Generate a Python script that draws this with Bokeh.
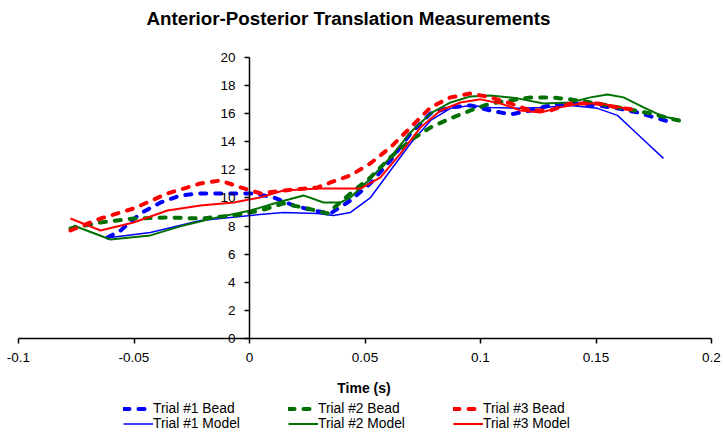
from bokeh.plotting import figure
from bokeh.models import Range1d, LinearAxis, FixedTicker, Legend, LegendItem
from bokeh.core.properties import value
from bokeh.embed import file_html
from bokeh.resources import INLINE

title_text = "Anterior-Posterior Translation Measurements"
x_label = "Time (s)"
x_ticks = [-0.1, -0.05, 0, 0.05, 0.1, 0.15, 0.2]
x_tick_labels = ["-0.1", "-0.05", "0", "0.05", "0.1", "0.15", "0.2"]
y_ticks = [0, 2, 4, 6, 8, 10, 12, 14, 16, 18, 20]
y_tick_labels = ["0", "2", "4", "6", "8", "10", "12", "14", "16", "18", "20"]

t1_bead_x = [-0.0615, -0.0558, -0.0472, -0.0385, -0.0299, -0.0212, -0.0069, 0.0017, 0.0104, 0.0190,
             0.0277, 0.0351, 0.0437, 0.0524, 0.0610, 0.0697, 0.0784, 0.0870, 0.0957, 0.1043,
             0.1130, 0.1216, 0.1303, 0.1390, 0.1506, 0.1593, 0.1680, 0.1766, 0.1814]
t1_bead_y = [7.19, 7.69, 8.90, 9.68, 10.18, 10.32, 10.32, 10.32, 10.04, 9.47,
             9.11, 8.90, 9.82, 11.04, 12.66, 14.58, 16.00, 16.43, 16.57, 16.21,
             15.93, 16.21, 16.57, 16.71, 16.57, 16.36, 16.07, 15.65, 15.43]

t1_model_x = [-0.0602, -0.0429, -0.0212, 0.0004, 0.0147, 0.0294, 0.0364, 0.0437, 0.0524, 0.0610,
              0.0697, 0.0784, 0.0870, 0.0957, 0.1043, 0.1160, 0.1273, 0.1390, 0.1506, 0.1593,
              0.1649, 0.1723, 0.1792]
t1_model_y = [7.19, 7.55, 8.40, 8.76, 8.97, 8.90, 8.76, 8.97, 10.03, 11.95,
              13.87, 15.50, 16.36, 16.57, 16.43, 16.36, 16.43, 16.57, 16.36, 15.86,
              15.00, 13.87, 12.81]

t2_bead_x = [-0.0775, -0.0645, -0.0502, -0.0355, -0.0212, -0.0069, 0.0048, 0.0147, 0.0251, 0.0338,
             0.0437, 0.0524, 0.0610, 0.0697, 0.0784, 0.0870, 0.0957, 0.1043, 0.1130, 0.1216,
             0.1303, 0.1390, 0.1506, 0.1619, 0.1736, 0.1835, 0.1879]
t2_bead_y = [7.83, 8.26, 8.54, 8.62, 8.54, 8.76, 9.11, 9.61, 9.25, 8.90,
             10.32, 11.46, 12.88, 14.09, 15.01, 15.65, 16.21, 16.71, 16.92, 17.14,
             17.14, 17.00, 16.71, 16.36, 16.00, 15.58, 15.43]

t2_model_x = [-0.0762, -0.0602, -0.0429, -0.0286, -0.0139, 0.0004, 0.0121, 0.0234, 0.0320, 0.0394,
              0.0437, 0.0524, 0.0610, 0.0697, 0.0784, 0.0870, 0.0957, 0.1043, 0.1160, 0.1273,
              0.1390, 0.1476, 0.1550, 0.1619, 0.1706, 0.1792, 0.1857]
t2_model_y = [8.04, 7.05, 7.34, 8.05, 8.62, 9.11, 9.68, 10.18, 9.68, 9.68,
              10.03, 11.38, 12.88, 14.65, 16.00, 16.78, 17.21, 17.28, 17.07, 16.71,
              16.78, 17.14, 17.35, 17.14, 16.43, 15.78, 15.57]

t3_bead_x = [-0.0775, -0.0645, -0.0502, -0.0355, -0.0212, -0.0126, -0.0039, 0.0048, 0.0147, 0.0294,
             0.0351, 0.0437, 0.0524, 0.0610, 0.0697, 0.0784, 0.0870, 0.0957, 0.1043, 0.1130,
             0.1216, 0.1303, 0.1390, 0.1506, 0.1593, 0.1658]
t3_bead_y = [7.69, 8.54, 9.25, 10.32, 11.03, 11.24, 10.75, 10.32, 10.53, 10.75,
             11.10, 11.60, 12.46, 13.59, 15.00, 16.43, 17.14, 17.42, 17.14, 16.71,
             16.21, 16.21, 16.71, 16.71, 16.43, 16.28]

t3_model_x = [-0.0775, -0.0645, -0.0502, -0.0355, -0.0212, -0.0069, 0.0048, 0.0147, 0.0294, 0.0437,
              0.0481, 0.0567, 0.0654, 0.0740, 0.0827, 0.0913, 0.1000, 0.1087, 0.1173, 0.1260,
              0.1346, 0.1433, 0.1519, 0.1606, 0.1658]
t3_model_y = [8.54, 7.69, 8.26, 9.11, 9.47, 9.68, 10.04, 10.53, 10.67, 10.67,
              10.67, 11.46, 13.16, 15.00, 16.21, 16.78, 17.00, 16.71, 16.21, 16.07,
              16.43, 16.71, 16.71, 16.43, 16.28]

FONT = "Liberation Sans"
BLUE = "#0000FF"
GREEN = "#007000"
RED = "#FF0000"

# canvas geometry (pixels): the data area sits inside a full-canvas frame
W, H = 724, 432
AREA_LEFT, AREA_RIGHT = 18, 711
AREA_TOP, AREA_BOTTOM = 56.6, 338.3

x0, x1 = x_ticks[0], x_ticks[-1]
y0, y1 = y_ticks[0], y_ticks[-1]
xs_per_px = (x1 - x0) / (AREA_RIGHT - AREA_LEFT)
ys_per_px = (y1 - y0) / (AREA_BOTTOM - AREA_TOP)
x_range = Range1d(x0 - AREA_LEFT * xs_per_px, x1 + (W - AREA_RIGHT) * xs_per_px)
y_range = Range1d(y0 - (H - AREA_BOTTOM) * ys_per_px, y1 + AREA_TOP * ys_per_px)

p = figure(frame_width=W, frame_height=H, x_range=x_range, y_range=y_range,
           x_axis_location=None, y_axis_location=None,
           output_backend="svg", toolbar_location=None, min_border=0)
p.min_border_left = 0
p.min_border_right = 0
p.min_border_top = 0
p.min_border_bottom = 0
p.outline_line_color = None
p.background_fill_color = "white"
p.border_fill_color = "white"
p.xgrid.visible = False
p.ygrid.visible = False
p.title.text = ""
p.title.visible = False

# x axis along y = 0
xaxis = LinearAxis(ticker=FixedTicker(ticks=x_ticks),
                   major_label_overrides={t: l for t, l in zip(x_ticks, x_tick_labels)},
                   fixed_location=y0, bounds=(x0, x1))
xaxis.axis_line_color = "black"
xaxis.axis_line_width = 1.5
xaxis.major_tick_line_color = "black"
xaxis.major_tick_line_width = 1.5
xaxis.major_tick_out = 5
xaxis.major_tick_in = 0
xaxis.minor_tick_line_color = None
xaxis.major_label_standoff = 9
xaxis.major_label_text_font = FONT
xaxis.major_label_text_font_size = "13.5px"
xaxis.major_label_text_color = "black"
p.add_layout(xaxis, "below")

# y axis crossing at x = 0
yaxis = LinearAxis(ticker=FixedTicker(ticks=y_ticks),
                   major_label_overrides={t: l for t, l in zip(y_ticks, y_tick_labels)},
                   fixed_location=x_ticks[2], bounds=(y0, y1))
yaxis.axis_line_color = "black"
yaxis.axis_line_width = 1.5
yaxis.major_tick_line_color = "black"
yaxis.major_tick_line_width = 1.5
yaxis.major_tick_out = 5
yaxis.major_tick_in = 0
yaxis.minor_tick_line_color = None
yaxis.major_label_standoff = 9
yaxis.major_label_text_font = FONT
yaxis.major_label_text_font_size = "13.5px"
yaxis.major_label_text_color = "black"
p.add_layout(yaxis, "left")

# title and axis title as text
p.text(x=[x0], y=[y1], text=[title_text], x_offset=128, y_offset=-(AREA_TOP - 18.3),
       text_align="left", text_baseline="alphabetic", text_font=value(FONT),
       text_font_size=value("18.8px"), text_font_style="bold", text_color="black")
p.text(x=[(x0 + x1) / 2], y=[y0], text=[x_label], x_offset=-1, y_offset=49,
       text_align="center", text_baseline="middle", text_font=value(FONT),
       text_font_size=value("14px"), text_font_style="bold", text_color="black")

series = [
    ("Trial #1 Bead", t1_bead_x, t1_bead_y, BLUE, True),
    ("Trial #1 Model", t1_model_x, t1_model_y, BLUE, False),
    ("Trial #2 Bead", t2_bead_x, t2_bead_y, GREEN, True),
    ("Trial #2 Model", t2_model_x, t2_model_y, GREEN, False),
    ("Trial #3 Bead", t3_bead_x, t3_bead_y, RED, True),
    ("Trial #3 Model", t3_model_x, t3_model_y, RED, False),
]
items = []
for name, xs, ys, col, dashed in series:
    if dashed:
        r = p.line(xs, ys, line_color=col, line_width=4, line_dash="6 9", line_cap="round",
                   line_join="round")
    else:
        w = 1.5 if col == BLUE else 2
        r = p.line(xs, ys, line_color=col, line_width=w, line_join="round")
    items.append(LegendItem(label=name, renderers=[r]))

legend = Legend(items=items, orientation="vertical", nrows=2, location=(123, 1))
legend.border_line_color = None
legend.background_fill_alpha = 0
legend.label_text_font = FONT
legend.label_text_font_size = "13.8px"
legend.label_text_color = "black"
legend.glyph_width = 30
legend.glyph_height = 13
legend.label_height = 13
legend.label_standoff = 0
legend.label_width = 135
legend.spacing = 0
legend.padding = 0
legend.margin = 0
p.add_layout(legend, "center")

open("out.html", "w").write(file_html(p, INLINE))
